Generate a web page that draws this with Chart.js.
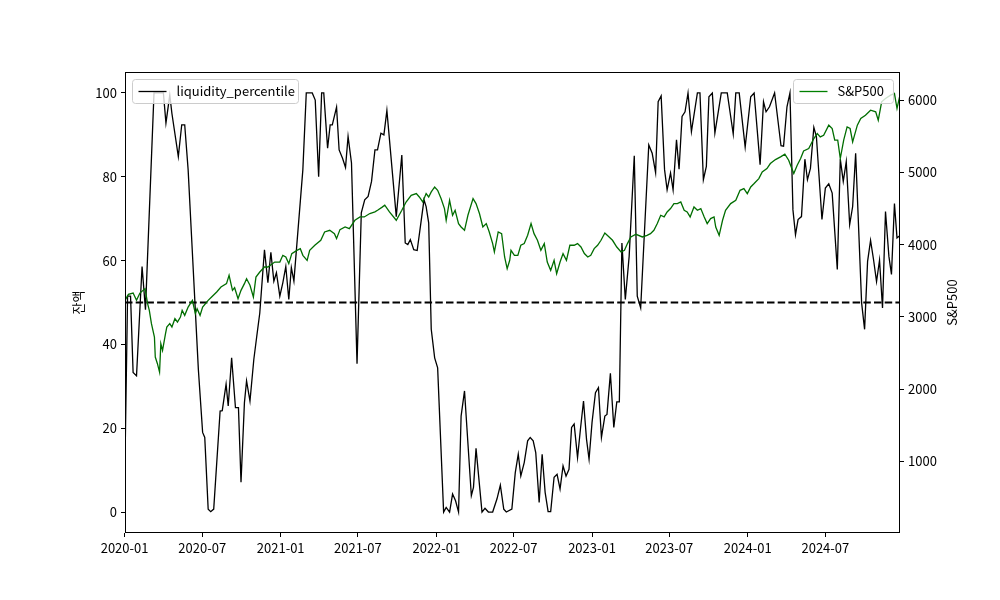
<!DOCTYPE html>
<html>
<head>
<meta charset="utf-8">
<script src="https://cdn.jsdelivr.net/npm/chart.js@4.4.1/dist/chart.umd.min.js"></script>
<style>
  html, body { margin: 0; padding: 0; background: #fff; }
</style>
</head>
<body>
<canvas id="chart" width="1000" height="600"></canvas>
<script>
// liquidity percentile (left axis), weekly
const liqDates = [
  '2020-01-02','2020-01-08','2020-01-15','2020-01-21','2020-01-29','2020-02-11','2020-02-19','2020-03-10',
  '2020-04-01','2020-04-07','2020-04-16','2020-04-21','2020-05-06','2020-05-14','2020-05-21','2020-05-29',
  '2020-06-06','2020-06-22','2020-07-02','2020-07-07','2020-07-15','2020-07-21','2020-07-28','2020-08-12',
  '2020-08-17','2020-08-26','2020-08-31','2020-09-08','2020-09-17','2020-09-24','2020-09-30','2020-10-08',
  '2020-10-13','2020-10-21','2020-10-30','2020-11-06','2020-11-13','2020-11-24','2020-12-02','2020-12-09',
  '2020-12-16','2020-12-22','2020-12-30','2021-01-06','2021-01-13','2021-01-20','2021-01-26','2021-02-01',
  '2021-02-22','2021-03-02','2021-03-16','2021-03-23','2021-03-31','2021-04-07','2021-04-12','2021-04-21',
  '2021-04-27','2021-05-02','2021-05-12','2021-05-18','2021-05-26','2021-06-02','2021-06-08','2021-06-16',
  '2021-06-29','2021-07-09','2021-07-17','2021-07-25','2021-08-02','2021-08-10','2021-08-16','2021-08-24',
  '2021-08-31','2021-09-07','2021-09-29','2021-10-12','2021-10-20','2021-10-26','2021-11-01','2021-11-09',
  '2021-11-17','2021-12-03','2021-12-08','2021-12-14','2021-12-20','2021-12-28','2022-01-04','2022-01-18',
  '2022-01-24','2022-02-01','2022-02-08','2022-02-15','2022-02-22','2022-02-28','2022-03-08','2022-03-24',
  '2022-03-29','2022-04-04','2022-04-18','2022-04-25','2022-05-03','2022-05-13','2022-05-23','2022-05-31',
  '2022-06-08','2022-06-14','2022-06-27','2022-07-05','2022-07-12','2022-07-18','2022-07-26','2022-08-03',
  '2022-08-09','2022-08-16','2022-08-22','2022-08-30','2022-09-06','2022-09-13','2022-09-20','2022-09-26',
  '2022-10-04','2022-10-11','2022-10-18','2022-10-25','2022-11-01','2022-11-08','2022-11-14','2022-11-20',
  '2022-11-28','2022-12-05','2022-12-12','2022-12-19','2022-12-25','2023-01-01','2023-01-09','2023-01-16',
  '2023-01-23','2023-01-31','2023-02-05','2023-02-13','2023-02-21','2023-02-28','2023-03-06','2023-03-12',
  '2023-03-20','2023-03-29','2023-04-10','2023-04-17','2023-04-25','2023-05-14','2023-05-22','2023-05-30',
  '2023-06-05','2023-06-12','2023-06-20','2023-06-26','2023-07-04','2023-07-10','2023-07-18','2023-07-24',
  '2023-07-31','2023-08-07','2023-08-14','2023-08-22','2023-09-05','2023-09-11','2023-09-19','2023-09-26',
  '2023-10-02','2023-10-10','2023-10-16','2023-10-31','2023-11-14','2023-11-28','2023-12-04','2023-12-12',
  '2023-12-26','2024-01-08','2024-01-16','2024-01-30','2024-02-07','2024-02-13','2024-02-21','2024-03-04',
  '2024-03-19','2024-03-25','2024-04-02','2024-04-09','2024-04-16','2024-04-22','2024-04-28','2024-05-06',
  '2024-05-14','2024-05-20','2024-05-27','2024-06-04','2024-06-10','2024-06-23','2024-07-01','2024-07-09',
  '2024-07-17','2024-07-29','2024-08-05','2024-08-12','2024-08-19','2024-08-27','2024-09-03','2024-09-10',
  '2024-09-24','2024-10-01','2024-10-08','2024-10-15','2024-10-22','2024-10-29','2024-11-05','2024-11-12',
  '2024-11-19','2024-11-27','2024-12-03','2024-12-10','2024-12-16','2024-12-23'
];
const liqValues = [
  12, 51.5, 51.5, 33.3, 32.5, 58.6, 48.3, 100,
  100, 92.8, 99.5, 95.1, 84.8, 92.4, 92.4, 81.7,
  65.8, 34, 19, 17.8, 0.7, 0.1, 0.7, 24.1,
  24.2, 30.5, 25.3, 36.8, 24.9, 24.9, 7.1, 26.1,
  31.3, 26.5, 36.4, 42, 47.5, 62.6, 54.7, 62,
  55.1, 57.1, 51.5, 54.7, 58.6, 50.7, 58.3, 55.1,
  81.7, 100, 100, 98.3, 80, 100, 100, 86.8,
  92.4, 92.4, 96.6, 86.4, 84.4, 82.2, 89.6, 83.3,
  35.4, 71.4, 74.5, 75.3, 78.9, 86.4, 86.4, 90.4,
  90, 95.8, 70.5, 85.2, 64.2, 63.8, 65, 62.6,
  62.4, 74.5, 72.9, 69, 43.6, 36.8, 34.4, 0,
  1.1, 0, 4.3, 2.7, 0, 22.9, 28.9, 3.9,
  5.9, 15.2, 0, 0.9, 0, 0, 3.1, 6.4,
  0.7, 0, 0.7, 9.4, 13.8, 8.6, 11.8, 17,
  17.8, 17, 14.2, 2.3, 13.8, 4.7, 0.1, 0.1,
  8.3, 9, 5.5, 11, 8.6, 10.2, 20.2, 21,
  13, 20, 26.5, 17.4, 12.6, 21.4, 28.5, 29.7,
  17.8, 22.9, 23.3, 33.1, 20.2, 26.3, 26.3, 64.2,
  50.7, 61, 85, 51.5, 48.7, 87.6, 85.6, 81,
  97.9, 99.3, 81.7, 76.9, 80.9, 76.9, 88.8, 81.8,
  94.4, 95.5, 100, 90.8, 100, 100, 79.3, 82.5,
  99.1, 100, 90.4, 100, 100, 90.2, 100, 100,
  87.1, 99.1, 100, 82.9, 97.9, 95.5, 96.7, 100,
  87.4, 87.3, 96.7, 100, 72.1, 66.2, 69.8, 70.5,
  84.2, 79.3, 82, 91.8, 89.6, 69.8, 77.3, 78.3,
  76.1, 57.9, 84.2, 78.9, 83.6, 68.6, 72.9, 85.6,
  49.9, 43.6, 59.8, 64.8, 60.2, 55, 60.1, 48.7,
  71.7, 61, 56.7, 73.6, 65.4, 66
];

// S&P500 (right axis)
const spxDates = [
  '2020-01-02','2020-01-10','2020-01-21','2020-01-29','2020-02-06','2020-02-18','2020-02-24','2020-02-28',
  '2020-03-04','2020-03-11','2020-03-13','2020-03-18','2020-03-23','2020-03-26','2020-03-30','2020-04-06',
  '2020-04-09','2020-04-16','2020-04-21','2020-04-28','2020-05-04','2020-05-11','2020-05-15','2020-05-21',
  '2020-05-29','2020-06-08','2020-06-15','2020-06-19','2020-06-26','2020-07-02','2020-07-15','2020-07-23',
  '2020-08-04','2020-08-14','2020-08-27','2020-09-02','2020-09-10','2020-09-15','2020-09-23','2020-09-30',
  '2020-10-08','2020-10-13','2020-10-21','2020-10-29','2020-11-04','2020-11-13','2020-11-24','2020-12-02',
  '2020-12-18','2020-12-30','2021-01-06','2021-01-13','2021-01-20','2021-01-27','2021-02-08','2021-02-16',
  '2021-02-22','2021-03-04','2021-03-10','2021-03-22','2021-04-05','2021-04-14','2021-04-26','2021-05-07',
  '2021-05-12','2021-05-20','2021-06-01','2021-06-11','2021-06-24','2021-07-06','2021-07-16','2021-07-29',
  '2021-08-10','2021-08-17','2021-08-27','2021-09-02','2021-09-13','2021-09-29','2021-10-12','2021-10-22',
  '2021-11-03','2021-11-15','2021-11-22','2021-11-30','2021-12-08','2021-12-14','2021-12-20','2021-12-28',
  '2022-01-04','2022-01-12','2022-01-20','2022-01-24','2022-02-01','2022-02-08','2022-02-14','2022-02-22',
  '2022-02-28','2022-03-08','2022-03-16','2022-03-28','2022-04-04','2022-04-12','2022-04-20','2022-04-28',
  '2022-05-05','2022-05-13','2022-05-17','2022-05-26','2022-06-03','2022-06-10','2022-06-16','2022-06-22',
  '2022-06-25','2022-07-03','2022-07-11','2022-07-18','2022-07-26','2022-08-03','2022-08-11','2022-08-18',
  '2022-08-26','2022-09-03','2022-09-11','2022-09-18','2022-09-26','2022-10-04','2022-10-10','2022-10-18',
  '2022-10-25','2022-11-02','2022-11-10','2022-11-20','2022-11-28','2022-12-06','2022-12-14','2022-12-22',
  '2022-12-29','2023-01-06','2023-01-14','2023-01-22','2023-01-31','2023-02-10','2023-02-18','2023-02-28',
  '2023-03-10','2023-03-18','2023-03-25','2023-04-02','2023-04-14','2023-04-29','2023-05-10','2023-05-18',
  '2023-05-26','2023-06-03','2023-06-11','2023-06-19','2023-06-26','2023-07-04','2023-07-12','2023-07-20',
  '2023-07-28','2023-08-05','2023-08-12','2023-08-19','2023-08-28','2023-09-05','2023-09-13','2023-09-21',
  '2023-09-28','2023-10-06','2023-10-14','2023-10-18','2023-10-26','2023-11-03','2023-11-10','2023-11-22',
  '2023-12-04','2023-12-14','2023-12-23','2023-12-31','2024-01-08','2024-01-16','2024-01-27','2024-02-04',
  '2024-02-15','2024-02-23','2024-03-06','2024-03-18','2024-03-28','2024-04-06','2024-04-12','2024-04-18',
  '2024-04-26','2024-05-04','2024-05-11','2024-05-23','2024-06-04','2024-06-12','2024-06-19','2024-06-27',
  '2024-07-09','2024-07-17','2024-07-23','2024-07-30','2024-08-05','2024-08-13','2024-08-21','2024-08-28',
  '2024-09-03','2024-09-14','2024-09-22','2024-10-03','2024-10-15','2024-10-27','2024-11-02','2024-11-10',
  '2024-11-19','2024-12-01','2024-12-10','2024-12-16','2024-12-22'
];
const spxValues = [
  3230, 3313, 3331, 3230, 3331, 3392, 3184, 3091,
  2907, 2722, 2445, 2353, 2237, 2630, 2537, 2768,
  2860, 2907, 2861, 2976, 2930, 2998, 3091, 3022,
  3137, 3230, 3046, 3114, 3022, 3137, 3230, 3276,
  3345, 3414, 3461, 3576, 3368, 3405, 3253, 3368,
  3461, 3530, 3438, 3276, 3552, 3622, 3691, 3691,
  3760, 3760, 3853, 3830, 3738, 3876, 3922, 3945,
  3853, 3784, 3922, 3992, 4061, 4176, 4199, 4153,
  4084, 4209, 4245, 4222, 4338, 4384, 4384, 4431,
  4454, 4480, 4520, 4546, 4453, 4338, 4476, 4591,
  4684, 4707, 4660, 4591, 4707, 4660, 4730, 4799,
  4753, 4638, 4500, 4338, 4613, 4407, 4476, 4292,
  4245, 4199, 4407, 4638, 4569, 4431, 4245, 4292,
  4176, 4015, 3899, 4176, 4153, 3830, 3669, 3784,
  3922, 3853, 3853, 3992, 4015, 4130, 4292, 4153,
  4061, 3922, 4015, 3760, 3645, 3784, 3599, 3760,
  3877, 3784, 3992, 3992, 4015, 3968, 3877, 3830,
  3853, 3946, 3992, 4061, 4162, 4107, 4061, 3968,
  3899, 3922, 4015, 4107, 4144, 4107, 4130, 4153,
  4199, 4292, 4407, 4384, 4453, 4500, 4569, 4569,
  4591, 4476, 4453, 4384, 4522, 4476, 4500, 4384,
  4292, 4361, 4384, 4245, 4130, 4338, 4476, 4569,
  4615, 4753, 4776, 4707, 4799, 4846, 4915, 5007,
  5054, 5123, 5178, 5215, 5252, 5169, 5076, 4984,
  5100, 5192, 5298, 5331, 5469, 5538, 5492, 5515,
  5654, 5608, 5446, 5446, 5192, 5446, 5630, 5608,
  5422, 5654, 5746, 5792, 5861, 5838, 5723, 5977,
  6023, 6069, 6092, 5885, 6045
];

const threshold = 50;
const xTickDates = ['2020-01-01','2020-07-01','2021-01-01','2021-07-01','2022-01-01','2022-07-01','2023-01-01','2023-07-01','2024-01-01','2024-07-01'];
const leftTicks = [0, 20, 40, 60, 80, 100];
const rightTicks = [1000, 2000, 3000, 4000, 5000, 6000];

const FONT = '"Noto Sans CJK KR", "Noto Sans", sans-serif';
Chart.defaults.font.family = FONT;
Chart.defaults.font.size = 13;
Chart.defaults.color = '#000';

const toXY = (dates, vals) => dates.map((d, i) => ({ x: Date.parse(d), y: vals[i] }));
const xMin = Date.parse(liqDates[0]);
const xMax = Date.parse(liqDates[liqDates.length - 1]);

function legendBox(ctx, x, y, w, h, color, label) {
  ctx.save();
  ctx.beginPath();
  ctx.roundRect(x, y, w, h, 3);
  ctx.fillStyle = 'rgba(255,255,255,0.8)';
  ctx.fill();
  ctx.strokeStyle = '#cccccc';
  ctx.lineWidth = 1;
  ctx.stroke();
  ctx.beginPath();
  ctx.moveTo(x + 6, y + h / 2);
  ctx.lineTo(x + 34, y + h / 2);
  ctx.strokeStyle = color;
  ctx.lineWidth = 1.3;
  ctx.stroke();
  ctx.fillStyle = '#000';
  ctx.font = '13px ' + FONT;
  ctx.textBaseline = 'middle';
  ctx.textAlign = 'left';
  ctx.fillText(label, x + 44, y + h / 2);
  ctx.restore();
}

function vText(ctx, text, x, y) {
  ctx.save();
  ctx.translate(x, y);
  ctx.rotate(-Math.PI / 2);
  ctx.font = '13px ' + FONT;
  ctx.fillStyle = '#000';
  ctx.textAlign = 'center';
  ctx.textBaseline = 'middle';
  ctx.fillText(text, 0, 0);
  ctx.restore();
}

const overlay = {
  id: 'overlay',
  afterDatasetsDraw(chart) {
    const { ctx, chartArea: a } = chart;
    ctx.save();
    ctx.strokeStyle = '#000';
    ctx.lineWidth = 1;
    ctx.strokeRect(a.left + 0.5, a.top + 0.5, a.right - a.left - 1, a.bottom - a.top - 1);
    ctx.restore();
    legendBox(ctx, 132.5, 79.5, 166, 24, '#000', 'liquidity_percentile');
    legendBox(ctx, 793.5, 79.5, 100, 24, 'green', 'S&P500');
    vText(ctx, '잔액', 78, (a.top + a.bottom) / 2);
    vText(ctx, 'S&P500', 952, (a.top + a.bottom) / 2);
  }
};

new Chart(document.getElementById('chart').getContext('2d'), {
  type: 'line',
  data: {
    datasets: [
      {
        label: 'S&P500',
        data: toXY(spxDates, spxValues),
        yAxisID: 'y2',
        borderColor: '#006d00',
        borderWidth: 1.3,
        pointRadius: 0,
        tension: 0,
        order: 0
      },
      {
        label: 'threshold',
        data: [{ x: xMin, y: threshold }, { x: xMax, y: threshold }],
        yAxisID: 'y',
        borderColor: '#000',
        borderWidth: 2,
        borderDash: [7.5, 3.2],
        pointRadius: 0,
        order: 1
      },
      {
        label: 'liquidity_percentile',
        data: toXY(liqDates, liqValues),
        yAxisID: 'y',
        borderColor: '#000',
        borderWidth: 1.3,
        pointRadius: 0,
        tension: 0,
        order: 2
      }
    ]
  },
  options: {
    responsive: false,
    animation: false,
    devicePixelRatio: 1,
    layout: { padding: { top: 72, left: 0, right: 0, bottom: 0 } },
    plugins: {
      legend: { display: false },
      tooltip: { enabled: false }
    },
    scales: {
      x: {
        type: 'linear',
        min: xMin,
        max: xMax,
        afterBuildTicks: s => { s.ticks = xTickDates.map(d => ({ value: Date.parse(d) })); },
        afterFit: s => { s.height = 67; },
        ticks: {
          callback: v => new Date(v).toISOString().slice(0, 7),
          maxRotation: 0,
          autoSkip: false,
          padding: 3
        },
        grid: { drawOnChartArea: false, color: '#000', tickLength: 4 },
        border: { display: false }
      },
      y: {
        position: 'left',
        min: -5,
        max: 105,
        afterBuildTicks: s => { s.ticks = leftTicks.map(v => ({ value: v })); },
        afterFit: s => { s.width = 125; },
        ticks: { padding: 4, callback: v => String(v) },
        grid: { drawOnChartArea: false, color: '#000', tickLength: 4 },
        border: { display: false }
      },
      y2: {
        position: 'right',
        min: 10,
        max: 6390,
        afterBuildTicks: s => { s.ticks = rightTicks.map(v => ({ value: v })); },
        afterFit: s => { s.width = 100; },
        ticks: { padding: 4, callback: v => String(v) },
        grid: { drawOnChartArea: false, color: '#000', tickLength: 4 },
        border: { display: false }
      }
    }
  },
  plugins: [overlay]
});
</script>
</body>
</html>
